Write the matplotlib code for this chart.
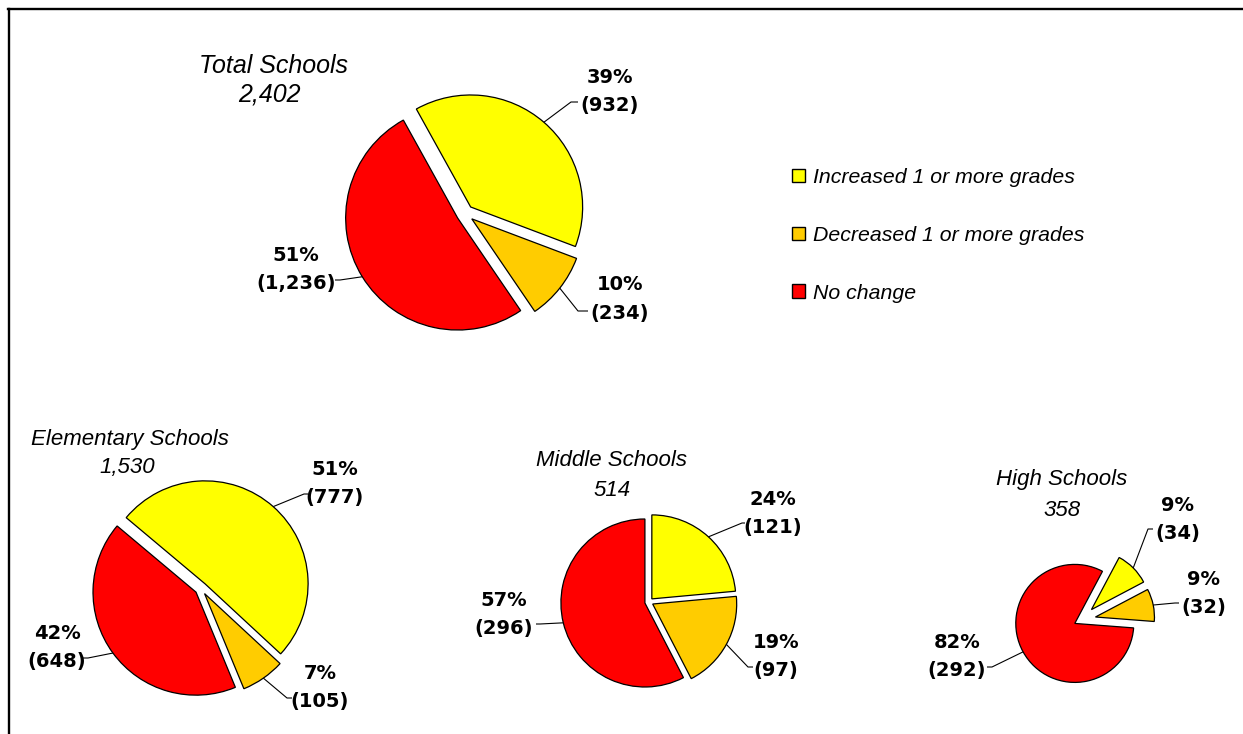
import matplotlib
matplotlib.use("Agg")
import matplotlib.pyplot as plt
from matplotlib.patches import Patch
from matplotlib.lines import Line2D
import numpy as np

# ---------------- data ----------------
groups = ["Total Schools", "Elementary Schools", "Middle Schools", "High Schools"]
categories = ["Increased 1 or more grades", "Decreased 1 or more grades", "No change"]
increased = [932, 777, 121, 34]
decreased = [234, 105, 97, 32]
no_change = [1236, 648, 296, 292]
increased_pct = [39, 51, 24, 9]
decreased_pct = [10, 7, 19, 9]
no_change_pct = [51, 42, 57, 82]
colors = ["#FFFF00", "#FFCC00", "#FF0000"]

# ---------------- layout (pixel coords, y measured downward) ----------------
W, H = 1243, 734
centers = [(465, 213.5), (201, 588.5), (649, 602), (1081, 620)]
radii = [112, 103, 84, 59]
starts = [119, 140, 90, 62]
# explode as fraction of each pie's radius
explodes = [(0.077, 0.077, 0.077), (0.06, 0.06, 0.06), (0.05, 0.05, 0.05), (0.25, 0.25, 0.12)]
# title (x, baseline), count (x, baseline)
title_pos = [((274, 73), (269, 101.5)), ((130, 445), (127, 473)),
             ((612, 466.5), (612, 496.5)), ((1062, 485), (1062, 516))]
title_size = [18, 16, 16, 16]
# label centres: (x, mid y) per slice (inc, dec, none)
label_pos = [
    [(610, 104), (620, 311.5), (296, 282)],
    [(335, 496), (320, 700), (57, 660)],
    [(773, 526), (776, 669), (504, 627)],
    [(1178, 532), (1204, 606), (957, 669)],
]
# leader line: elbow point, end point
leaders = [
    [((571, 102), (578, 102)), ((578, 311), (588, 311)), ((340, 280), (335, 280))],
    [((304, 494), (308, 494)), ((287, 698), (292, 698)), ((88, 658), (83, 658))],
    [((742, 523), (745, 523)), ((748, 667), (753, 667)), ((540, 624), (536, 624))],
    [((1148, 529), (1153, 529)), ((1175, 603), (1179, 603)), ((992, 667), (987, 667))],
]

LABEL_FONT = "DejaVu Sans"
TITLE_FONT = "Liberation Sans"


def Y(y):
    return H - y


fig = plt.figure(figsize=(W / 100, H / 100), dpi=100)
ax = fig.add_axes([0, 0, 1, 1])

for i, g in enumerate(groups):
    vals = [increased[i], decreased[i], no_change[i]]
    pcts = [increased_pct[i], decreased_pct[i], no_change_pct[i]]
    cx, cy = centers[i]
    r = radii[i]
    wedges, _ = ax.pie(vals, colors=colors, startangle=starts[i], counterclock=False,
                       explode=[e * r for e in explodes[i]], radius=r, center=(cx, Y(cy)),
                       frame=True,
                       wedgeprops=dict(edgecolor="black", linewidth=0.9))
    # titles
    (tx, ty), (nx, ny) = title_pos[i]
    ax.text(tx, Y(ty), g, ha="center", va="baseline", fontsize=title_size[i],
            style="italic", family=TITLE_FONT)
    ax.text(nx, Y(ny), f"{sum(vals):,}", ha="center", va="baseline", fontsize=title_size[i],
            style="italic", family=TITLE_FONT)
    # labels + leader lines
    for j, w in enumerate(wedges):
        mid = np.deg2rad((w.theta1 + w.theta2) / 2)
        sx = w.center[0] + w.r * np.cos(mid)
        sy = w.center[1] + w.r * np.sin(mid)
        (ex, ey), (fx, fy) = leaders[i][j]
        ax.plot([sx, ex, fx], [sy, Y(ey), Y(fy)], color="black", lw=0.8,
                solid_capstyle="butt")
        lx, ly = label_pos[i][j]
        ax.text(lx, Y(ly - 14 - 7), f"{pcts[j]}%", ha="center", va="baseline",
                fontsize=14, fontweight="bold", family=LABEL_FONT)
        ax.text(lx, Y(ly + 14 - 7), f"({vals[j]:,})", ha="center", va="baseline",
                fontsize=14, fontweight="bold", family=LABEL_FONT)

ax.set_xlim(0, W)
ax.set_ylim(0, H)
ax.set_aspect("equal")
ax.axis("off")

handles = [Patch(facecolor=c, edgecolor="black", linewidth=1.0) for c in colors]
leg = ax.legend(handles, categories, loc="upper left",
                bbox_to_anchor=(792 / W, Y(168) / H), frameon=False,
                prop=dict(family=TITLE_FONT, style="italic", size=15.3),
                handlelength=0.62, handleheight=0.62, handletextpad=0.38,
                labelspacing=1.83, borderpad=0, borderaxespad=0)

# frame lines (top and left)
fig.add_artist(Line2D([8.8 / W, 8.8 / W], [0, Y(9) / H], color="black", lw=1.7,
                      transform=fig.transFigure))
fig.add_artist(Line2D([7.9 / W, 1], [Y(9) / H, Y(9) / H], color="black", lw=1.7,
                      transform=fig.transFigure))

fig.savefig("out.png", dpi=100, facecolor="white")
